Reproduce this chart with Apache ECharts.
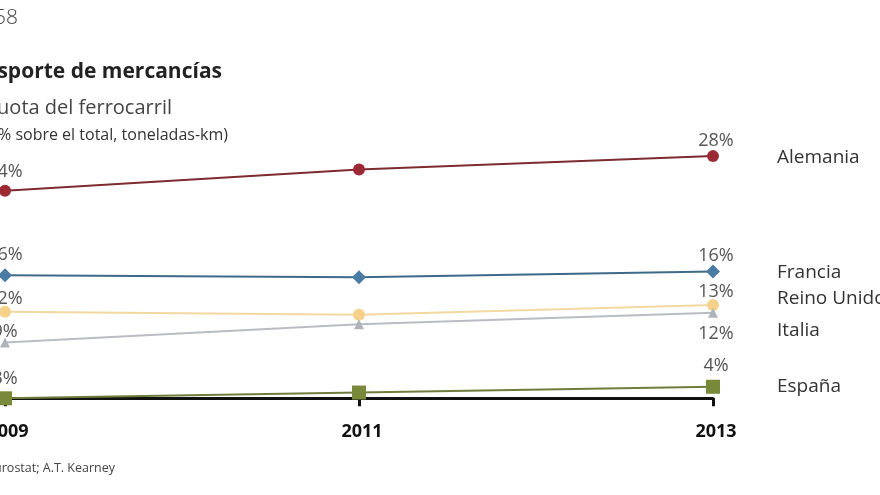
<!DOCTYPE html>
<html><head><meta charset="utf-8">
<script src="https://cdn.jsdelivr.net/npm/echarts@6/dist/echarts.min.js"></script>
<style>html,body{margin:0;padding:0;background:#fff}#c{width:880px;height:495px}</style>
</head><body><div id="c"></div>
<script>
var years = ['2009', '2011', '2013'];
var alemania = [24.4, 26.6, 28];
var francia = [15.6, 15.4, 16];
var reinoUnido = [11.8, 11.5, 12.5];
var italia = [8.6, 10.5, 11.7];
var espana = [2.8, 3.4, 4];
var seriesNames = ['Alemania', 'Francia', 'Reino Unido', 'Italia', 'España'];
var titleTop = 'Gráfico 58';
var titleMain = 'Transporte de mercancías';
var titleSub = 'Cuota del ferrocarril';
var titleUnit = '(% sobre el total, toneladas-km)';
var sourceText = 'Fuente: Eurostat; A.T. Kearney';

var FONT = '"Open Sans"';
var styles = [
  {line:'#7d2a30', marker:'#9b2a35', symbol:'circle', size:12, dist:[4,0], pos:['top','top'], nameDy:1},
  {line:'#3e6a89', marker:'#4a7ca3', symbol:'diamond', size:14, dist:[4,0], pos:['top','top'], nameDy:1},
  {line:'#f3d9a0', marker:'#f6d18c', symbol:'circle', size:12, dist:[-2,-2], pos:['top','top'], nameDy:-6},
  {line:'#b9bdc3', marker:'#b0b4ba', symbol:'triangle', size:10, dist:[-3,7], pos:['top','bottom'], nameDy:18},
  {line:'#6f7d3c', marker:'#788a3a', symbol:'rect', size:14, dist:[3,5], pos:['top','top'], nameDy:0}
];
var values = [alemania, francia, reinoUnido, italia, espana];

var series = values.map(function(arr, si){
  var st = styles[si];
  return {
    name: seriesNames[si], type:'line', data: arr.map(function(v, i){
      var item = {value: v};
      if (i === 0 || i === arr.length-1) {
        var k = i === 0 ? 0 : 1;
        item.label = {show:true, position: st.pos[k], distance: st.dist[k], offset: [k ? 3 : 0, 0]};
      }
      return item;
    }),
    symbol: st.symbol, symbolSize: st.size, z: si === 4 ? 5 : 3,
    lineStyle: {color: st.line, width: 2},
    itemStyle: {color: st.marker},
    label: {show:false, color:'#555', fontSize:18, fontFamily:FONT, formatter: function(p){return Math.round(p.value) + '%';}},
    endLabel: {show:true, formatter: seriesNames[si], color:'#333', fontSize:19, fontFamily:FONT, distance: 0, offset:[64, st.nameDy], align:'left'},
    emphasis: {disabled:true}, animation:false
  };
});

var chart = echarts.init(document.getElementById('c'));
chart.setOption({
  animation:false,
  grid: {left:5, right:167, top:136.9, bottom:96.7, containLabel:false, outerBoundsMode:'none'},
  xAxis: {type:'category', data: years, boundaryGap:false,
    axisLine:{show:true, lineStyle:{color:'#111', width:3}},
    axisTick:{show:true, alignWithLabel:true, length:8, lineStyle:{color:'#111', width:3}},
    axisLabel:{color:'#111', fontSize:18, fontWeight:'bold', fontFamily:FONT, margin:25, padding:[0,0,0,6], showMinLabel:true, showMaxLabel:true, hideOverlap:false}
  },
  yAxis: {type:'value', min:2.8, max:30, show:false, splitLine:{show:false}},
  series: series,
  graphic: [
    {type:'text', x:18, y:18, style:{text:titleTop, fill:'#444', font:'300 21px ' + FONT, textAlign:'right', textVerticalAlign:'middle'}},
    {type:'text', x:222, y:72, style:{text:titleMain, fill:'#222', font:'bold 21px ' + FONT, textAlign:'right', textVerticalAlign:'middle'}},
    {type:'text', x:172, y:108, style:{text:titleSub, fill:'#444', font:'20px ' + FONT, textAlign:'right', textVerticalAlign:'middle'}},
    {type:'text', x:228, y:135, style:{text:titleUnit, fill:'#333', font:'16px ' + FONT, textAlign:'right', textVerticalAlign:'middle'}},
    {type:'text', x:115, y:468, style:{text:sourceText, fill:'#444', font:'12.5px ' + FONT, textAlign:'right', textVerticalAlign:'middle'}}
  ]
});
</script></body></html>
